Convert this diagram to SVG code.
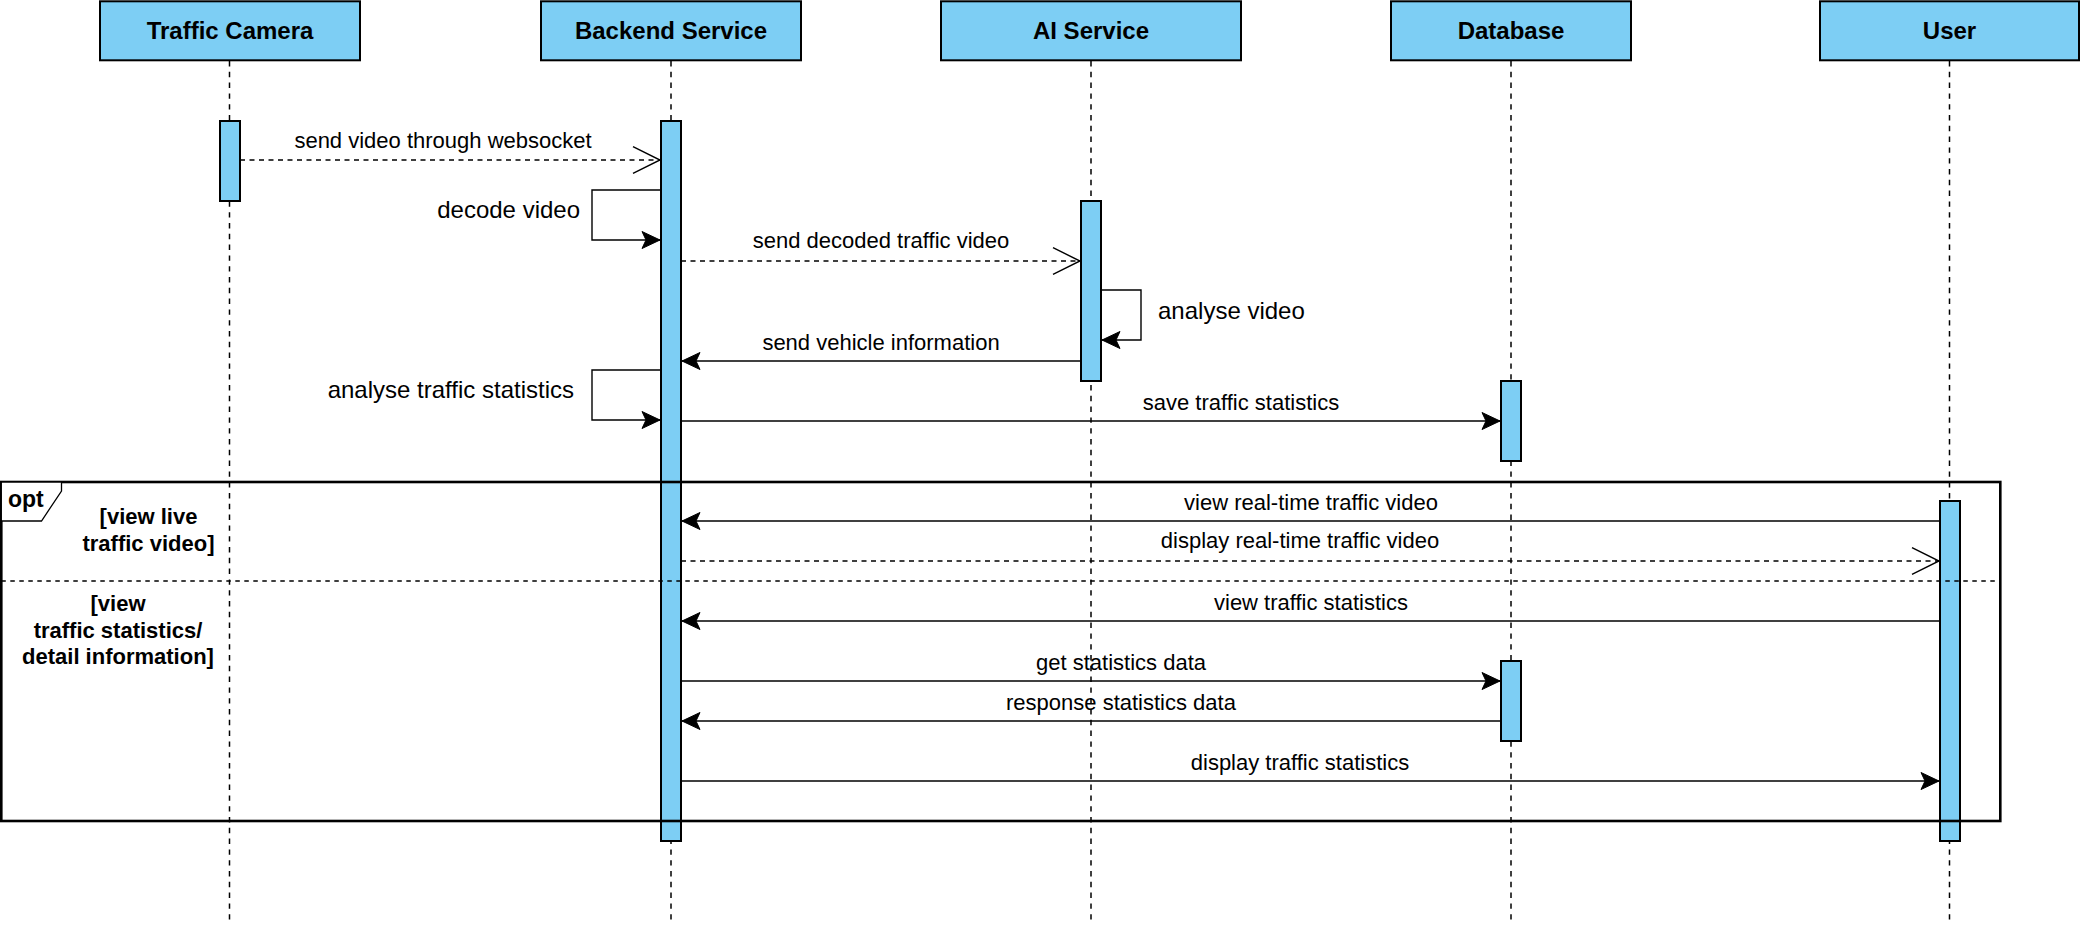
<svg xmlns="http://www.w3.org/2000/svg" width="2080" height="928" viewBox="0 0 2080 928">
<style>
  .head { fill: #7DCEF4; stroke: #000; stroke-width: 2; }
  .act { fill: #7DCEF4; stroke: #000; stroke-width: 2; }
  .life { stroke: #000; stroke-width: 1.5; stroke-dasharray: 5.4 5.4; fill: none; }
  .ht { font-family: "Liberation Sans", Arial, sans-serif; font-weight: bold; font-size: 24px; text-anchor: middle; fill: #000; }
  .msg { stroke: #000; stroke-width: 1.4; fill: none; }
  .dash { stroke-width: 1.6; stroke-dasharray: 5 4.5; }
  .ml { font-family: "Liberation Sans", Arial, sans-serif; font-size: 22px; text-anchor: middle; fill: #000; }
  .sl { font-family: "Liberation Sans", Arial, sans-serif; font-size: 24px; fill: #000; }
  .gd { font-family: "Liberation Sans", Arial, sans-serif; font-size: 22px; font-weight: bold; text-anchor: middle; fill: #000; }
  .frame { fill: none; stroke: #000; stroke-width: 2.6; }
</style>
<defs>
  <marker id="filled" viewBox="-20 -10 22 20" markerWidth="22" markerHeight="20" refX="0" refY="0" markerUnits="userSpaceOnUse" orient="auto">
    <path d="M0,0 L-18,-8.5 L-14,0 L-18,8.5 Z" fill="#000" stroke="#000" stroke-width="1"/>
  </marker>
  <marker id="open" viewBox="-30 -15 32 30" markerWidth="32" markerHeight="30" refX="0" refY="0" markerUnits="userSpaceOnUse" orient="auto">
    <path d="M-27,-13.3 L0,0 L-27,13.3" fill="none" stroke="#000" stroke-width="1.4"/>
  </marker>
</defs>
<rect width="2080" height="928" fill="#fff"/>

<g id="traffic-camera">
  <rect class="head" x="100" y="1.3" width="260" height="59"/>
  <text class="ht" x="230" y="38.5">Traffic Camera</text>
  <line class="life" x1="229.5" y1="61" x2="229.5" y2="920"/>
  <rect class="act" x="220" y="121" width="20" height="80"/>
</g>
<g id="backend-service">
  <rect class="head" x="541" y="1.3" width="260" height="59"/>
  <text class="ht" x="671" y="38.5">Backend Service</text>
  <line class="life" x1="671" y1="61" x2="671" y2="920"/>
  <rect class="act" x="661" y="121" width="20" height="720"/>
</g>
<g id="ai-service">
  <rect class="head" x="941" y="1.3" width="300" height="59"/>
  <text class="ht" x="1091" y="38.5">AI Service</text>
  <line class="life" x1="1091" y1="61" x2="1091" y2="920"/>
  <rect class="act" x="1081" y="201" width="20" height="180"/>
</g>
<g id="database">
  <rect class="head" x="1391" y="1.3" width="240" height="59"/>
  <text class="ht" x="1511" y="38.5">Database</text>
  <line class="life" x1="1511" y1="61" x2="1511" y2="920"/>
  <rect class="act" x="1501" y="381" width="20" height="80"/>
  <rect class="act" x="1501" y="661" width="20" height="80"/>
</g>
<g id="user">
  <rect class="head" x="1820" y="1.3" width="259" height="59"/>
  <text class="ht" x="1949.5" y="38.5">User</text>
  <line class="life" x1="1949.5" y1="61" x2="1949.5" y2="925"/>
  <rect class="act" x="1940" y="501" width="20" height="340"/>
</g>

<g id="opt-frame">
  <rect class="frame" x="1.3" y="482" width="1999" height="339"/>
  <path d="M1.3,482 H61.5 V491 L41.5,521 H1.3 Z" fill="#fff" stroke="#000" stroke-width="1.3"/>
  <text class="gd" x="8" y="507" style="text-anchor:start;font-size:23px">opt</text>
  <line x1="1.3" y1="581" x2="2000" y2="581" stroke="#000" stroke-width="1.5" stroke-dasharray="4.5 4.5"/>
  <text class="gd" x="148.5" y="524">[view live</text>
  <text class="gd" x="148.5" y="551">traffic video]</text>
  <text class="gd" x="118" y="611">[view</text>
  <text class="gd" x="118" y="637.5">traffic statistics/</text>
  <text class="gd" x="118" y="664">detail information]</text>
</g>

<g id="connectors">
  <line class="msg dash" x1="240" y1="160" x2="660" y2="160" marker-end="url(#open)"/>
  <text class="ml" x="443" y="148">send video through websocket</text>

  <path class="msg" d="M661,190 H592 V240 H660" marker-end="url(#filled)"/>
  <text class="sl" x="580" y="218" text-anchor="end">decode video</text>

  <line class="msg dash" x1="681" y1="261" x2="1080" y2="261" marker-end="url(#open)"/>
  <text class="ml" x="881" y="247.5">send decoded traffic video</text>

  <path class="msg" d="M1101,290 H1141 V340 H1102" marker-end="url(#filled)"/>
  <text class="sl" x="1158" y="319">analyse video</text>

  <line class="msg" x1="1081" y1="361" x2="682" y2="361" marker-end="url(#filled)"/>
  <text class="ml" x="881" y="349.5">send vehicle information</text>

  <path class="msg" d="M661,370 H592 V420 H660" marker-end="url(#filled)"/>
  <text class="sl" x="574" y="398" text-anchor="end">analyse traffic statistics</text>

  <line class="msg" x1="681" y1="421" x2="1500" y2="421" marker-end="url(#filled)"/>
  <text class="ml" x="1241" y="409.5">save traffic statistics</text>

  <line class="msg" x1="1940" y1="521" x2="682" y2="521" marker-end="url(#filled)"/>
  <text class="ml" x="1311" y="509.5">view real-time traffic video</text>

  <line class="msg dash" x1="681" y1="561" x2="1939" y2="561" marker-end="url(#open)"/>
  <text class="ml" x="1300" y="548">display real-time traffic video</text>

  <line class="msg" x1="1940" y1="621" x2="682" y2="621" marker-end="url(#filled)"/>
  <text class="ml" x="1311" y="609.5">view traffic statistics</text>

  <line class="msg" x1="681" y1="681" x2="1500" y2="681" marker-end="url(#filled)"/>
  <text class="ml" x="1121" y="669.5">get statistics data</text>

  <line class="msg" x1="1501" y1="721" x2="682" y2="721" marker-end="url(#filled)"/>
  <text class="ml" x="1121" y="709.5">response statistics data</text>

  <line class="msg" x1="681" y1="781" x2="1939" y2="781" marker-end="url(#filled)"/>
  <text class="ml" x="1300" y="769.5">display traffic statistics</text>
</g>
</svg>
